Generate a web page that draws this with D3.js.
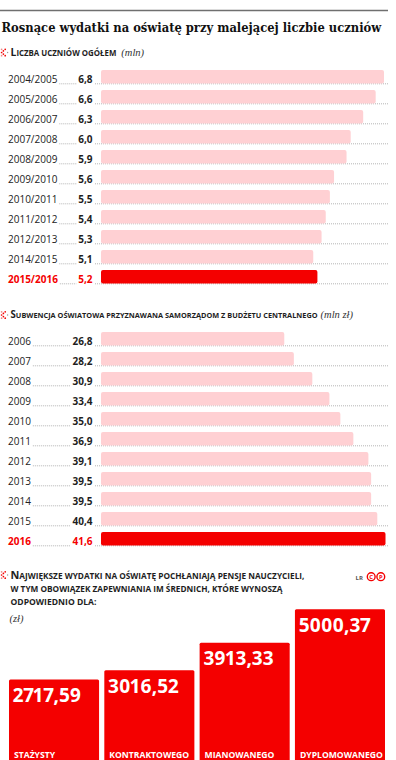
<!DOCTYPE html>
<html>
<head>
<meta charset="utf-8">
<script src="https://cdn.jsdelivr.net/npm/d3@7"></script>
<style>
  html, body { margin: 0; padding: 0; background: #fff; }
  svg { display: block; }
  text { font-family: "Open Sans", sans-serif; }
</style>
</head>
<body>
<script>
// ---------- DATA ----------
const title = "Rosnące wydatki na oświatę przy malejącej liczbie uczniów";
const header1 = "Liczba uczniów ogółem";
const unit1 = "(mln)";
const schoolYears = ["2004/2005","2005/2006","2006/2007","2007/2008","2008/2009","2009/2010","2010/2011","2011/2012","2012/2013","2014/2015","2015/2016"];
const pupils = [6.8, 6.6, 6.3, 6.0, 5.9, 5.6, 5.5, 5.4, 5.3, 5.1, 5.2];

const header2 = "Subwencja oświatowa przyznawana samorządom z budżetu centralnego";
const unit2 = "(mln zł)";
const subsidyYears = ["2006","2007","2008","2009","2010","2011","2012","2013","2014","2015","2016"];
const subsidy = [26.8, 28.2, 30.9, 33.4, 35.0, 36.9, 39.1, 39.5, 39.5, 40.4, 41.6];

const header3 = ["Największe wydatki na oświatę pochłaniają pensje nauczycieli,",
                 "w tym obowiązek zapewniania im średnich, które wynoszą",
                 "odpowiednio dla:"];
const unit3 = "(zł)";
const teacherLevels = ["STAŻYSTY", "KONTRAKTOWEGO", "MIANOWANEGO", "DYPLOMOWANEGO"];
const salaries = [2717.59, 3016.52, 3913.33, 5000.37];

// ---------- SETUP ----------
const W = 396, H = 760;
const RED = "#f40000", PINK = "#ffd0d3", TEXT = "#1e1e1e", DOT = "#8a8a8a";
const pl = d3.formatLocale({decimal: ",", thousands: "\u00a0", grouping: [3], currency: ["", " zł"]});
const f1 = pl.format(".1f"), f2 = pl.format(".2f");

const svg = d3.select("body").append("svg").attr("width", W).attr("height", H);

function fit(sel, target) {
  const w = sel.node().getComputedTextLength();
  const fs = parseFloat(sel.attr("font-size"));
  sel.attr("font-size", (fs * target / w).toFixed(2));
  return sel;
}

// top rule
svg.append("line").attr("x1", 0).attr("x2", 388).attr("y1", 10.5).attr("y2", 10.5)
  .attr("stroke", "#6f6f6f").attr("stroke-width", 1.5);

// title
fit(svg.append("text").attr("x", 1.5).attr("y", 31.5)
  .style("font-family", "'DejaVu Serif', serif").style("font-stretch", "condensed")
  .attr("font-weight", 700).attr("font-size", 13).attr("fill", "#111").text(title), 380);

function icon(cy) {
  const g = svg.append("g");
  const pts = [[5.2,-3.2],[3.4,-1.6],[1.6,0],[3.4,1.6],[5.2,3.2],[1.6,-3.2],[1.6,3.2]];
  g.selectAll("circle").data(pts).join("circle")
    .attr("cx", d => d[0]).attr("cy", d => cy + d[1]).attr("r", 0.85)
    .attr("fill", (d, i) => i < 5 ? RED : "#e88");
  g.append("circle").attr("cx", 7.6).attr("cy", cy).attr("r", 0.7).attr("fill", "#999");
}

// manual small caps: uppercase letters at cap size, everything else uppercased at small size
function header(text, x, y, target) {
  const capR = 1.0, smallR = 0.76;
  const runs = [];
  for (const ch of text) {
    const isCap = ch !== ch.toLowerCase();
    const last = runs[runs.length - 1];
    if (last && last.cap === isCap) last.t += ch; else runs.push({cap: isCap, t: ch});
  }
  const t = svg.append("text").attr("x", x).attr("y", y).attr("font-weight", 700).attr("fill", TEXT);
  let base = 10;
  const spans = t.selectAll("tspan").data(runs).join("tspan")
    .text(d => d.t.toUpperCase());
  const apply = b => spans.attr("font-size", d => (b * (d.cap ? capR : smallR)).toFixed(2));
  apply(base);
  const w = t.node().getComputedTextLength();
  base = base * target / w;
  apply(base);
  return t;
}
function unitText(text, x, y) {
  return svg.append("text").attr("x", x).attr("y", y)
    .style("font-family", "'Liberation Serif', serif").attr("font-style", "italic")
    .attr("font-size", 10.5).attr("fill", "#333").text(text);
}

// ---------- horizontal sections ----------
function hSection(cats, vals, yTop, xMax, fmt) {
  const x = d3.scaleLinear().domain([0, d3.max(vals)]).range([101, xMax]);
  const y = d3.scaleBand().domain(cats).range([yTop, yTop + 20 * (cats.length - 1) + 13.5])
    .paddingInner(0.325).paddingOuter(0);
  const last = cats.length - 1;
  const g = svg.append("g");
  cats.forEach((c, i) => {
    const bottom = y(c) + y.bandwidth();
    const col = i === last ? RED : TEXT;
    const yt = g.append("text").attr("x", 8).attr("y", bottom - 0.8)
      .attr("font-size", 10).attr("fill", i === last ? RED : "#222")
      .attr("font-weight", i === last ? 700 : 400)
      .text(c);
    const vt = g.append("text").attr("x", 92.5).attr("y", bottom - 0.8)
      .attr("text-anchor", "end").attr("font-size", 10).attr("font-weight", 700)
      .attr("fill", col).text(fmt(vals[i]));
    const ye = 8 + yt.node().getComputedTextLength() + 2;
    const vs = 92.5 - vt.node().getComputedTextLength() - 2;
    g.append("line").attr("x1", ye).attr("x2", vs).attr("y1", bottom + 0.3).attr("y2", bottom + 0.3)
      .attr("stroke", DOT).attr("stroke-width", 0.8).attr("stroke-dasharray", "0.8,1.2");
    g.append("line").attr("x1", 95).attr("x2", 388).attr("y1", bottom + 0.3).attr("y2", bottom + 0.3)
      .attr("stroke", DOT).attr("stroke-width", 0.8).attr("stroke-dasharray", "0.8,1.2");
  });
  g.selectAll("rect.bar").data(cats).join("rect").attr("class", "bar")
    .attr("x", x(0)).attr("y", d => y(d))
    .attr("width", (d, i) => x(vals[i]) - x(0))
    .attr("height", y.bandwidth())
    .attr("rx", 2)
    .attr("fill", (d, i) => i === last ? RED : PINK);
}

// section 1
icon(52.5);
const h1 = header(header1, 10.5, 55.5, 106);
unitText(unit1, 10.5 + h1.node().getComputedTextLength() + 5, 55.5);
hSection(schoolYears, pupils, 70, 384, f1);

// section 2
icon(315);
const h2 = header(header2, 10.5, 318, 307);
unitText(unit2, 10.5 + h2.node().getComputedTextLength() + 3, 318);
hSection(subsidyYears, subsidy, 332, 385.5, f1);

// ---------- section 3 ----------
icon(575);
header(header3[0], 10.5, 578.5, 294);
header(header3[1], 10.5, 591.5, 272);
header(header3[2], 10.5, 604.5, 86);
unitText(unit3, 9.5, 622);

// LR + logo
svg.append("text").attr("x", 355.5).attr("y", 579.5).attr("font-size", 6).attr("font-weight", 700)
  .attr("fill", "#555").text("LR");
[["C", 371.2], ["P", 380.8]].forEach(([t, cx]) => {
  svg.append("circle").attr("cx", cx).attr("cy", 576.7).attr("r", 3.9)
    .attr("fill", "#fff").attr("stroke", RED).attr("stroke-width", 1.4);
  svg.append("text").attr("x", cx).attr("y", 578.9).attr("text-anchor", "middle")
    .attr("font-size", 5.8).attr("font-weight", 700).attr("fill", RED).text(t);
});

const xb = d3.scaleBand().domain(teacherLevels).range([9, 385]).paddingInner(0.055);
const yb = d3.scaleLinear().domain([0, d3.max(salaries)]).range([763, 609.3]);
const gb = svg.append("g");
gb.selectAll("rect").data(teacherLevels).join("rect")
  .attr("x", d => xb(d)).attr("width", xb.bandwidth())
  .attr("y", (d, i) => yb(salaries[i])).attr("height", (d, i) => yb(0) - yb(salaries[i]) + 4)
  .attr("rx", 1.5).attr("fill", RED);
gb.selectAll("text.val").data(teacherLevels).join("text").attr("class", "val")
  .attr("x", d => xb(d) + 3.8).attr("y", (d, i) => yb(salaries[i]) + 22.3)
  .attr("font-size", 19).attr("font-weight", 700).attr("fill", "#fff")
  .style("font-variant-numeric", "proportional-nums")
  .text((d, i) => f2(salaries[i]));
gb.selectAll("text.cat").data(teacherLevels).join("text").attr("class", "cat")
  .attr("x", d => xb(d) + 5).attr("y", 757.5)
  .attr("font-size", 8.6).attr("font-weight", 700).attr("fill", "#fff")
  .text(d => d);
</script>
</body>
</html>
